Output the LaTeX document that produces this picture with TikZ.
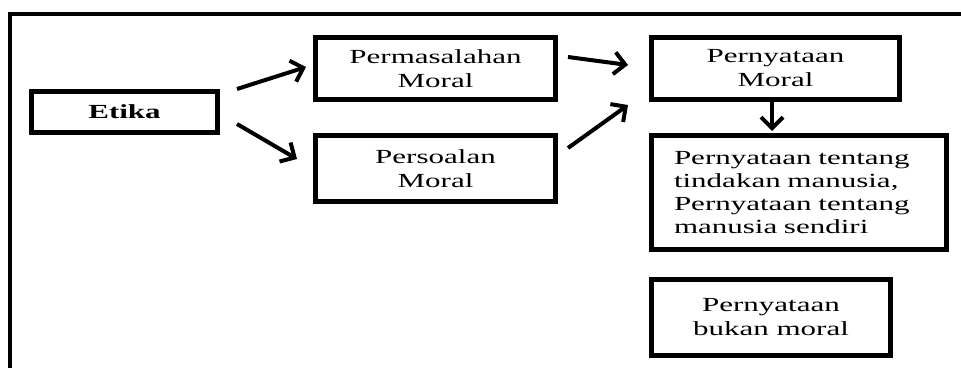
\documentclass[tikz,border=0pt]{standalone}
\usepackage{fontspec}
\setmainfont{Liberation Serif}[FakeStretch=1.55]
\usetikzlibrary{arrows.meta,calc}
\begin{document}
\begin{tikzpicture}[x=1pt,y=-1pt,
  box/.style={draw, line width=5pt, inner sep=0pt, align=center,
    font=\fontsize{20}{24}\selectfont},
  arr/.style={line width=4pt, -{Straight Barb[length=11pt,width=22pt]}},
  frame/.style={line width=4pt}]
\useasboundingbox (0,0) rectangle (961,367);
\coordinate (ftr) at (965,13.5);
\coordinate (fbl) at (9.5,370);
\draw[frame] (ftr) -| (fbl);
\node[box, minimum width=186pt, minimum height=41pt, font=\fontsize{20}{24}\selectfont\bfseries] (etika) at (124.5,112) {Etika};
\node[box, minimum width=240pt, minimum height=62pt] (perm) at (435.5,68.5) {Permasalahan\\Moral};
\node[box, minimum width=240pt, minimum height=66pt] (pers) at (435.5,168.5) {Persoalan\\Moral};
\node[box, minimum width=248pt, minimum height=62pt] (pern) at (775.5,68.5) {Pernyataan\\Moral};
\node[box, text width=250pt, inner xsep=22.5pt, align=left, minimum height=114pt, font=\fontsize{20}{23}\selectfont] (tent) at (799,192.5) {Pernyataan tentang\\tindakan manusia,\\Pernyataan tentang\\manusia sendiri};
\node[box, minimum width=239pt, minimum height=76pt] (bukan) at (771,317.5) {Pernyataan\\bukan moral};
\draw[arr] ($(etika.north east)+(17,0)$) -- ($(perm.west)+(-7,-1.5)$);
\draw[arr] ($(etika.east)+(17,12)$) -- ($(pers.west)+(-16,-9.5)$);
\draw[arr] ($(perm.east)+(10,-11.5)$) -- ($(pern.west)+(-21,-3.5)$);
\draw[arr] ($(pers.east)+(10,-20.5)$) -- ($(pern.south west)+(-21,3)$);
\draw[arr] ($(pern.south)+(-3.5,0)$) -- ($(pern.south)+(-3.5,29)$);
\end{tikzpicture}
\end{document}
